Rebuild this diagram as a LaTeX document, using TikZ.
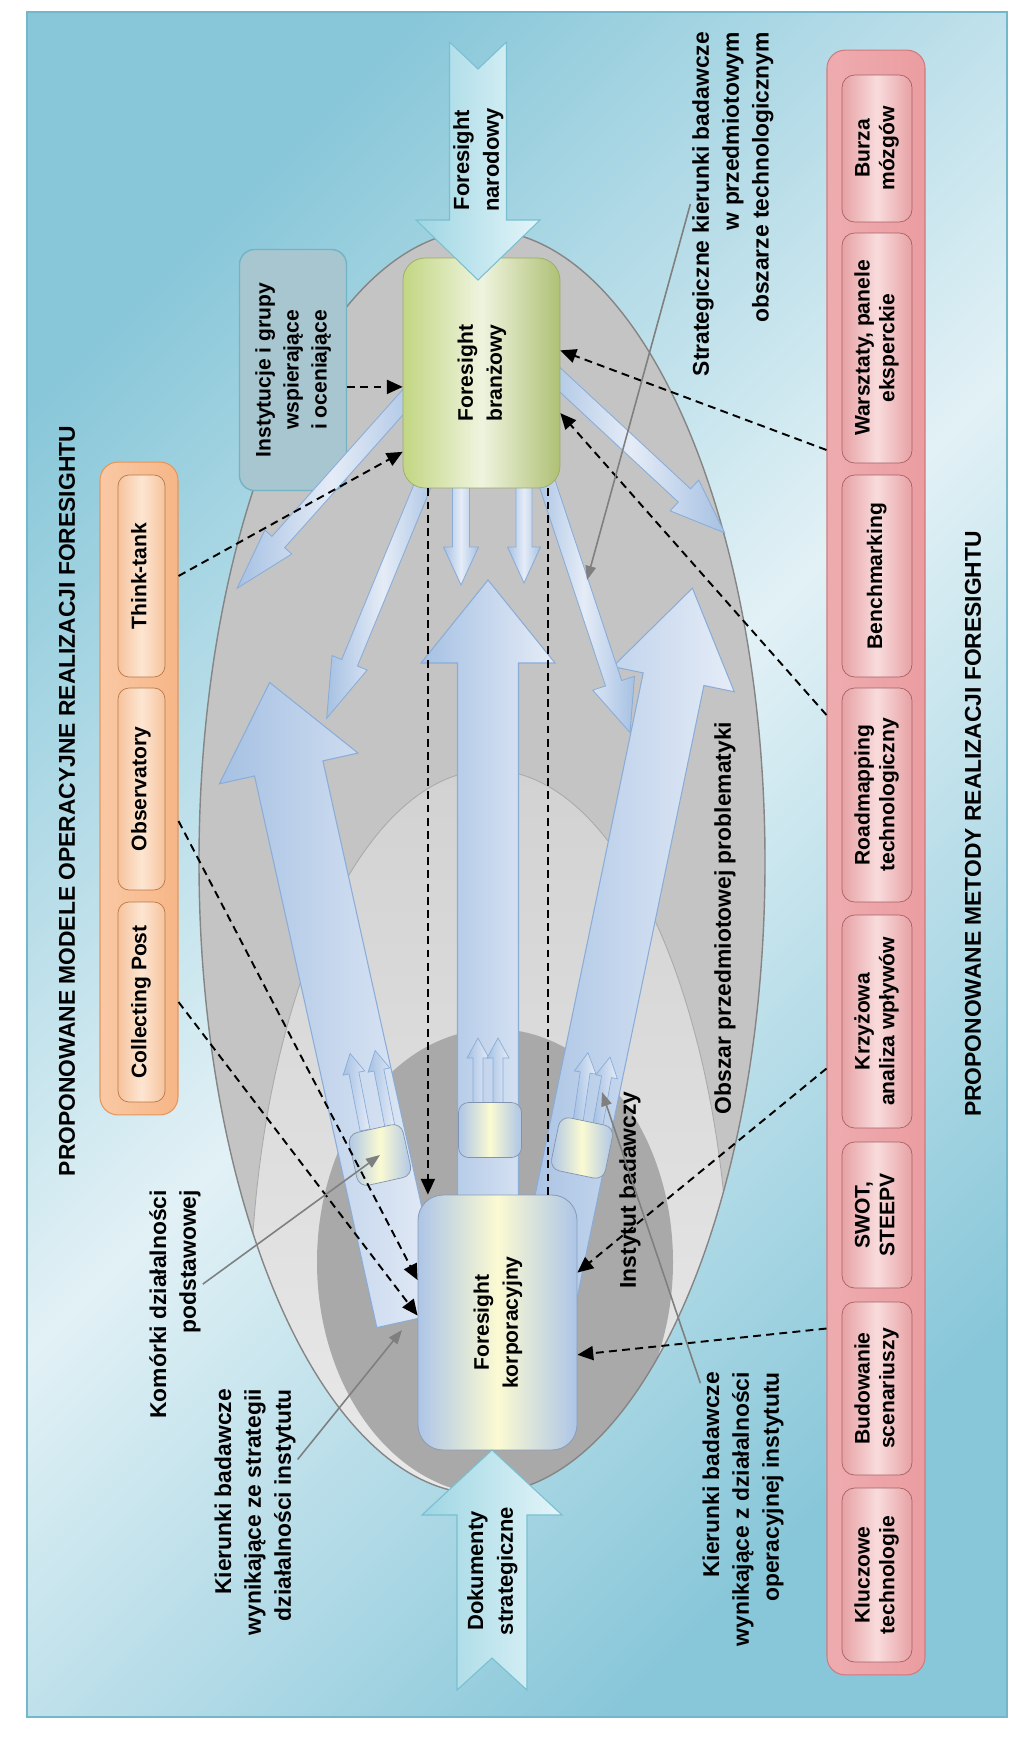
\documentclass[tikz,border=0pt]{standalone}
\usepackage{fontspec}
\usepackage{graphicx}
\setmainfont{Liberation Sans}
\usetikzlibrary{calc,arrows.meta}

\definecolor{bgdark}{HTML}{88C7D9}
\definecolor{bglight}{HTML}{E2F1F6}
\definecolor{bgline}{HTML}{74B6CA}
\definecolor{ellgray}{HTML}{C4C4C4}
\definecolor{ellline}{HTML}{858585}
\definecolor{elltop}{HTML}{D2D2D2}
\definecolor{ellbot}{HTML}{F5F5F5}
\definecolor{elldark}{HTML}{A9A9A9}
\definecolor{arrblue}{HTML}{A6C1E3}
\definecolor{arrpale}{HTML}{E5ECF7}
\definecolor{arrline}{HTML}{8AADD8}
\definecolor{cyanarr}{HTML}{9ED6E3}
\definecolor{cyanpale}{HTML}{E4F5F9}
\definecolor{cyanline}{HTML}{79BFD0}
\definecolor{brgreen}{HTML}{C2D682}
\definecolor{brpale}{HTML}{EFF4DF}
\definecolor{korblue}{HTML}{ADC5E7}
\definecolor{korpale}{HTML}{FBFAD2}
\definecolor{instfill}{HTML}{A8C6D0}
\definecolor{instline}{HTML}{72B3C6}
\definecolor{pinkpanel}{HTML}{EB9DA1}
\definecolor{pinkline}{HTML}{CF7A7E}
\definecolor{pinkbox}{HTML}{E7A1A4}
\definecolor{pinkpale}{HTML}{F8DCDD}
\definecolor{orgpanel}{HTML}{F7B686}
\definecolor{orgline}{HTML}{E5965C}
\definecolor{orgbox}{HTML}{F6C39C}
\definecolor{orgpale}{HTML}{FDE6D3}
\definecolor{leadgray}{HTML}{7F7F7F}

\newcommand{\vt}[1]{\rotatebox{90}{\begin{tabular}{@{}c@{}}#1\end{tabular}}}
\newcommand{\blkarrow}[8][]{%
  \begin{scope}[shift={#2}, rotate=#3]
    \path[#1] (0,-#5) -- (#4-#7,-#5) -- (#4-#7,-#6) -- (#4,0) -- (#4-#7,#6)
      -- (#4-#7,#5) -- (0,#5) -- (#8,0) -- cycle;
  \end{scope}}

\tikzset{
  bigarr/.style={left color=arrblue, right color=arrpale, draw=arrline, line width=0.6pt},
  smallarr/.style={left color=arrblue, right color=arrblue, middle color=arrpale, draw=arrline, line width=0.5pt},
  pairarr/.style={left color=arrblue, right color=arrpale, draw=arrline, line width=0.4pt},
  cyanblk/.style={left color=cyanarr, right color=cyanpale, draw=cyanline, line width=0.6pt},
  cell/.style={rectangle, rounded corners=0.2cm, minimum width=1.1cm, minimum height=1.08cm,
    left color=korblue, right color=korblue, middle color=korpale, draw=korblue!75!black, line width=0.4pt},
  gbox/.style={rectangle, rounded corners=0.44cm, inner sep=0pt, minimum width=3.14cm, minimum height=4.6cm,
    left color=brgreen, right color=brgreen!90!black, middle color=brpale, draw=brgreen!80!black, line width=0.4pt,
    font=\fontsize{12}{16.5}\selectfont\bfseries},
  kbox/.style={rectangle, rounded corners=0.5cm, inner sep=0pt, minimum width=3.18cm, minimum height=5.1cm,
    left color=korblue, right color=korblue, middle color=korpale, draw=korblue!80!black, line width=0.5pt,
    font=\fontsize{12}{16.5}\selectfont\bfseries},
  ibox/.style={rectangle, rounded corners=0.3cm, inner sep=0pt, minimum width=2.14cm, minimum height=4.82cm,
    fill=instfill, draw=instline, line width=0.8pt, font=\fontsize{12}{16}\selectfont\bfseries},
  ppanel/.style={rectangle, rounded corners=0.36cm, minimum width=1.96cm, minimum height=32.5cm,
    left color=pinkpanel!85!white, right color=pinkpanel, draw=pinkline, line width=0.6pt},
  pbox/.style={rectangle, rounded corners=0.25cm, inner sep=0pt, minimum width=1.4cm,
    left color=pinkbox, right color=pinkbox, middle color=pinkpale, draw=pinkline!80!black, line width=0.4pt,
    font=\fontsize{12}{14.2}\selectfont\bfseries},
  opanel/.style={rectangle, rounded corners=0.36cm, minimum width=1.56cm, minimum height=13.06cm,
    left color=orgpanel!75!white, right color=orgpanel, draw=orgline, line width=0.6pt},
  obox/.style={rectangle, rounded corners=0.22cm, inner sep=0pt, minimum width=0.94cm,
    left color=orgbox, right color=orgbox, middle color=orgpale, draw=orgline!80!black, line width=0.4pt,
    font=\fontsize{12}{14.2}\selectfont\bfseries},
  arrlbl/.style={inner sep=0pt, font=\fontsize{12.5}{17}\selectfont\bfseries},
  lbl/.style={inner sep=1pt, font=\fontsize{13}{17}\selectfont\bfseries},
  ttl/.style={inner sep=0pt, font=\fontsize{13}{15}\selectfont\bfseries},
  dashlink/.style={draw=black, line width=1.1pt, dash pattern=on 4.5pt off 3pt, -{Triangle[length=9pt,width=8pt]}},
  dashplain/.style={draw=black, line width=1.1pt, dash pattern=on 4.5pt off 3pt},
  leader/.style={draw=leadgray, line width=0.9pt, -{Triangle[length=8pt,width=6pt]}}
}

\begin{document}
\begin{tikzpicture}[x=0.02cm, y=-0.02cm]
\useasboundingbox (0,0) rectangle (1024,1737);
\shade[top color=bgdark, bottom color=bgdark, middle color=bglight, shading angle=45] (27,12) rectangle (1007,1717);
\draw[bgline, line width=0.8pt] (27,12) rectangle (1007,1717);

\fill[ellgray] (482,862) ellipse [x radius=283, y radius=632];
\begin{scope}
\clip (482,862) ellipse [x radius=283, y radius=632];
\shade[top color=elltop, bottom color=ellbot] (490,1320) ellipse [x radius=240, y radius=550];
\draw[ellline!70, line width=0.5pt] (490,1320) ellipse [x radius=240, y radius=550];
\fill[elldark] (495,1262) ellipse [x radius=178, y radius=233];
\end{scope}
\draw[ellline, line width=0.8pt] (482,862) ellipse [x radius=283, y radius=632];

\blkarrow[bigarr]{(411,1320)}{102.5}{653}{35}{71}{88}{0}
\blkarrow[bigarr]{(545,1300)}{78.3}{727}{31}{62}{93}{0}
\blkarrow[bigarr]{(488,1200)}{90}{620}{30.5}{67}{83}{0}

\blkarrow[pairarr]{(365,1130)}{101}{78}{5}{11}{20}{0}
\blkarrow[pairarr]{(390,1127)}{101}{78}{5}{11}{20}{0}
\blkarrow[pairarr]{(478,1105)}{90}{67}{5}{11}{20}{0}
\blkarrow[pairarr]{(498,1105)}{90}{67}{5}{11}{20}{0}
\blkarrow[pairarr]{(578,1122)}{81.8}{70}{5}{11}{20}{0}
\blkarrow[pairarr]{(598,1124)}{79.8}{68}{5}{11}{20}{0}
\node[cell, rotate=12.5] (cellL) at (380,1155) {};
\node[cell, minimum width=1.26cm, minimum height=1.1cm] (cellC) at (490,1130) {};
\node[cell, rotate=-11.7] (cellR) at (582,1148) {};

\node[ibox] (inst) at (293,370) {\vt{Instytucje i grupy\\wspierające\\i oceniające}};

\blkarrow[smallarr]{(420,383)}{-131.7}{275}{8.5}{18}{62}{0}
\blkarrow[smallarr]{(431.5,464)}{-112.4}{275}{8.5}{19}{60}{0}
\blkarrow[smallarr]{(461,470)}{-90}{115}{8.5}{17.5}{38}{0}
\blkarrow[smallarr]{(524,470)}{-90}{113}{8}{16.5}{36}{0}
\blkarrow[smallarr]{(540.7,464)}{-71.6}{283}{8.5}{22}{52}{0}
\blkarrow[smallarr]{(542.3,363.4)}{-42.9}{249}{9}{21}{55}{0}

\node[gbox] (fbr) at (481.5,373) {\vt{Foresight\\branżowy}};
\node[kbox] (fkor) at (497.5,1322.5) {\vt{Foresight\\korporacyjny}};

\blkarrow[cyanblk]{(478,42)}{-90}{238}{28.5}{62}{60}{27}
\node[arrlbl] (narlbl) at (478,160) {\vt{Foresight\\narodowy}};
\blkarrow[cyanblk]{(492,1690)}{90}{240}{35}{70}{65}{32}
\node[arrlbl] (doklbl) at (492,1571) {\vt{Dokumenty\\strategiczne}};

\node[opanel] (opanel) at (139,788.5) {};
\node[obox, minimum height=4.04cm] (tt) at (141.5,576) {\vt{Think-tank}};
\node[obox, minimum height=4.04cm] (obs) at (141.5,789) {\vt{Observatory}};
\node[obox, minimum height=4cm] (cpost) at (141.5,1002) {\vt{Collecting Post}};

\node[ppanel] (ppanel) at (876,862.5) {};
\node[pbox, minimum height=2.94cm] (burza) at (877,148.5) {\vt{Burza\\mózgów}};
\node[pbox, minimum height=4.6cm] (wars) at (877,348) {\vt{Warsztaty, panele\\eksperckie}};
\node[pbox, minimum height=4.04cm] (bench) at (877,576) {\vt{Benchmarking}};
\node[pbox, minimum height=4.28cm] (road) at (877,795) {\vt{Roadmapping\\technologiczny}};
\node[pbox, minimum height=4.26cm] (krzy) at (877,1021.5) {\vt{Krzyżowa\\analiza wpływów}};
\node[pbox, minimum height=2.92cm] (swot) at (877,1215) {\vt{SWOT,\\STEEPV}};
\node[pbox, minimum height=3.46cm] (budo) at (877,1388.5) {\vt{Budowanie\\scenariuszy}};
\node[pbox, minimum height=3.48cm] (kluc) at (877,1575) {\vt{Kluczowe\\technologie}};

\node[ttl, rotate=90] (ttlL) at (67,801) {PROPONOWANE MODELE OPERACYJNE REALIZACJI FORESIGHTU};
\node[ttl, rotate=90] (ttlR) at (973,824) {PROPONOWANE METODY REALIZACJI FORESIGHTU};

\node[lbl, rotate=90, anchor=east, align=right] (lblStrat) at (733,30) {Strategiczne kierunki badawcze\\w przedmiotowym\\obszarze technologicznym};
\node[lbl, rotate=90] (lblObsz) at (725,918) {Obszar przedmiotowej problematyki};
\node[lbl, rotate=90] (lblInst) at (630,1190) {Instytut badawczy};
\node[lbl, rotate=90, anchor=east, align=right] (lblKom) at (175,1188) {Komórki działalności\\podstawowej};
\node[lbl, rotate=90, anchor=east, align=right] (lblKierS) at (255,1387) {Kierunki badawcze\\wynikające ze strategii\\działalności instytutu};
\node[lbl, rotate=90, anchor=east, align=right] (lblKierO) at (743,1370) {Kierunki badawcze\\wynikające z działalności\\operacyjnej instytutu};

\coordinate (dl) at ($(fbr.south west)!0.16!(fbr.south east)$);
\coordinate (dr) at ($(fbr.south west)!0.924!(fbr.south east)$);
\draw[dashlink] (dl) -- (dl |- fkor.north);
\draw[dashplain] (dr) -- (dr |- fkor.north);
\draw[dashlink] (inst.east |- fbr.190) -- (fbr.190);
\draw[dashlink] (tt.east -| opanel.east) -- (fbr.225);
\draw[dashlink] ($(obs.east -| opanel.east)+(0,32)$) -- (fkor.152);
\draw[dashlink] (cpost.east -| opanel.east) -- (fkor.175);
\draw[dashlink] ($(wars.west -| ppanel.west)+(0,102)$) -- (fbr.16);
\draw[dashlink] ($(road.west -| ppanel.west)+(0,-80)$) -- (fbr.-27);
\draw[dashlink] ($(krzy.west -| ppanel.west)+(0,47)$) -- (fkor.32);
\draw[dashlink] ($(budo.west -| ppanel.west)+(0,-60)$) -- (fkor.-22);

\coordinate (tipStrat) at (587,580);
\coordinate (tipStr) at (402,1330);
\coordinate (tipOp) at (602,1092);
\draw[leader] (lblStrat.north) -- (tipStrat);
\draw[leader] (lblKom) -- (cellL.center);
\draw[leader] (lblKierS) -- (tipStr);
\draw[leader] (lblKierO) -- (tipOp);
\end{tikzpicture}
\end{document}
